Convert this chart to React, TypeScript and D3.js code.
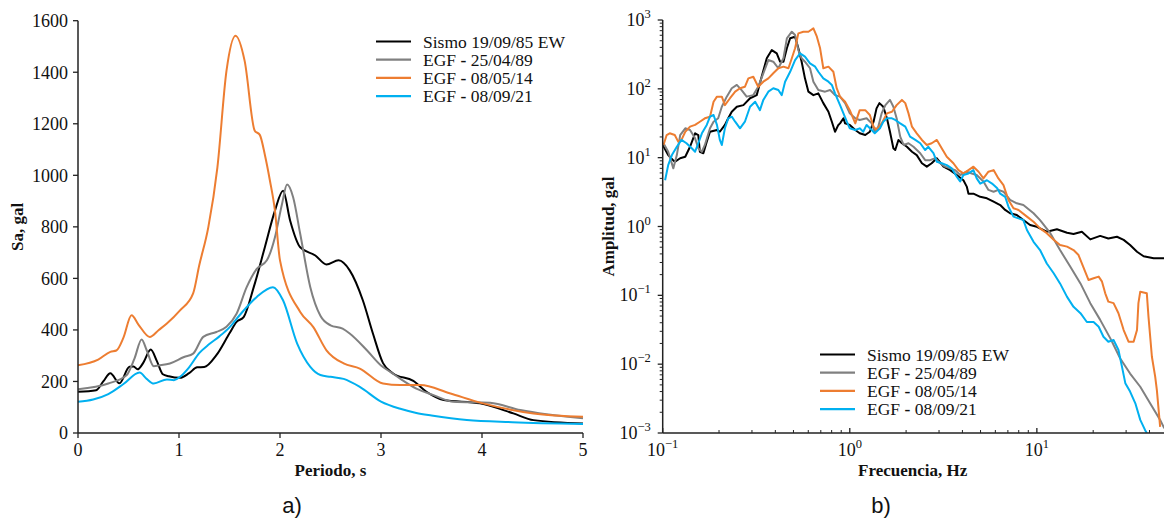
import React from 'react';
import * as d3 from 'd3';

// ---------- Left chart: response spectra (Periodo, s vs Sa, gal) ----------
const saTicksX = [0, 1, 2, 3, 4, 5];
const saTicksY = [0, 200, 400, 600, 800, 1000, 1200, 1400, 1600];

const sismoT = [0, 0.18, 0.25, 0.32, 0.41, 0.51, 0.55, 0.59, 0.65, 0.72, 0.78, 0.84, 0.9, 1.01, 1.1, 1.18, 1.25, 1.37, 1.5, 1.57, 1.64, 1.74, 1.85, 1.95, 2.03, 2.1, 2.2, 2.35, 2.46, 2.58, 2.69, 2.82, 2.92, 3.02, 3.12, 3.32, 3.45, 3.62, 3.98, 4.31, 4.51, 5.0];
const sismoSa = [160, 166, 200, 232, 193, 257, 258, 247, 275, 324, 280, 228, 220, 214, 232, 255, 256, 302, 387, 431, 450, 566, 721, 863, 940, 825, 721, 689, 654, 670, 631, 515, 386, 271, 231, 202, 160, 128, 115, 76, 50, 37];

const egf89T = [0, 0.3, 0.48, 0.56, 0.63, 0.68, 0.75, 0.8, 0.91, 1.05, 1.14, 1.24, 1.37, 1.47, 1.57, 1.67, 1.77, 1.87, 1.95, 2.02, 2.07, 2.13, 2.2, 2.3, 2.4, 2.5, 2.62, 2.69, 2.86, 3.0, 3.1, 3.2, 3.35, 3.52, 3.72, 4.08, 4.38, 5.0];
const egf89Sa = [170, 192, 224, 290, 363, 321, 259, 262, 270, 295, 308, 373, 392, 412, 463, 566, 637, 670, 760, 889, 964, 915, 773, 566, 455, 418, 405, 386, 321, 262, 235, 208, 172, 147, 121, 117, 89, 57];

const egf14T = [0, 0.2, 0.32, 0.38, 0.45, 0.53, 0.6, 0.71, 0.8, 0.88, 1.01, 1.14, 1.2, 1.29, 1.38, 1.47, 1.56, 1.65, 1.75, 1.8, 1.85, 1.9, 1.95, 2.0, 2.2, 2.33, 2.46, 2.63, 2.79, 3.02, 3.19, 3.39, 3.68, 4.0, 4.51, 5.0];
const egf14Sa = [263, 285, 315, 320, 370, 457, 420, 373, 400, 425, 476, 542, 650, 798, 1030, 1405, 1542, 1444, 1173, 1157, 1080, 980, 863, 670, 470, 411, 321, 270, 250, 192, 186, 186, 154, 116, 76, 63];

const egf21T = [0, 0.15, 0.3, 0.45, 0.61, 0.68, 0.75, 0.88, 0.95, 1.01, 1.1, 1.2, 1.3, 1.4, 1.5, 1.6, 1.77, 1.93, 2.03, 2.17, 2.3, 2.4, 2.5, 2.63, 2.79, 3.0, 3.2, 3.35, 3.5, 3.85, 4.3, 5.0];
const egf21Sa = [121, 130, 151, 190, 235, 210, 192, 208, 205, 218, 255, 310, 345, 375, 410, 457, 528, 566, 515, 347, 257, 225, 218, 210, 179, 122, 93, 78, 68, 50, 42, 35];

// ---------- Right chart: Fourier amplitude spectra ----------
const freqMajor = [0.1, 1, 10];
const ampMajor = [1e-3, 1e-2, 1e-1, 1, 10, 100, 1000];

const sismoF = [0.1, 0.107, 0.116, 0.124, 0.132, 0.14, 0.149, 0.155, 0.158, 0.165, 0.172, 0.179, 0.195, 0.202, 0.215, 0.224, 0.234, 0.249, 0.27, 0.293, 0.318, 0.338, 0.36, 0.383, 0.407, 0.424, 0.442, 0.461, 0.48, 0.51, 0.531, 0.553, 0.576, 0.601, 0.639, 0.679, 0.722, 0.769, 0.802, 0.834, 0.869, 0.887, 0.925, 0.944, 1.0, 1.07, 1.13, 1.21, 1.28, 1.34, 1.39, 1.44, 1.51, 1.58, 1.64, 1.71, 1.75, 1.82, 1.9, 2.02, 2.15, 2.28, 2.43, 2.58, 2.74, 2.92, 3.17, 3.44, 3.73, 4.05, 4.22, 4.31, 4.58, 4.98, 5.41, 5.87, 6.37, 6.77, 7.19, 7.81, 8.47, 9.2, 10.0, 11.3, 12.8, 14.5, 15.7, 17.4, 19.3, 21.8, 24.1, 26.8, 29.1, 31.5, 34.3, 37.2, 42.1, 48];
const sismoA = [15.3, 10.9, 8.7, 9.8, 10.3, 14.4, 22.6, 21.3, 12.2, 11.6, 17.1, 23.8, 25.2, 23.8, 29.9, 37.3, 46.5, 55, 58, 73, 81, 150, 278, 366, 328, 248, 248, 388, 542, 572, 388, 248, 142, 91, 81, 86, 62, 46.5, 33.3, 23.8, 29.9, 31.5, 37.3, 31.5, 29.9, 25.2, 22.6, 21.3, 23.8, 33.3, 52, 62, 55, 37.3, 23.8, 13.7, 12.9, 18.1, 16.2, 14.4, 12.2, 10.9, 8.3, 7.4, 8.3, 9.8, 7.4, 6.6, 5.6, 4.7, 3.8, 3.0, 3.0, 2.7, 2.57, 2.29, 2.05, 1.74, 1.56, 1.47, 1.24, 1.05, 0.99, 0.84, 0.91, 0.81, 0.78, 0.84, 0.65, 0.73, 0.67, 0.71, 0.64, 0.54, 0.43, 0.37, 0.345, 0.345];

const egf89F = [0.101, 0.107, 0.114, 0.119, 0.124, 0.132, 0.14, 0.149, 0.155, 0.162, 0.168, 0.179, 0.187, 0.198, 0.207, 0.22, 0.234, 0.249, 0.264, 0.281, 0.305, 0.324, 0.345, 0.367, 0.39, 0.415, 0.442, 0.461, 0.49, 0.51, 0.531, 0.553, 0.576, 0.613, 0.639, 0.679, 0.738, 0.785, 0.834, 0.887, 0.944, 1.0, 1.07, 1.13, 1.23, 1.31, 1.36, 1.42, 1.48, 1.55, 1.64, 1.71, 1.78, 1.86, 1.94, 2.06, 2.19, 2.38, 2.53, 2.69, 2.86, 3.04, 3.23, 3.44, 3.66, 3.89, 4.22, 4.49, 4.77, 5.18, 5.51, 5.87, 6.23, 6.63, 7.19, 7.81, 8.47, 9.6, 10.4, 11.8, 13.3, 15.1, 17.1, 19.3, 21.8, 24.7, 27.9, 31.5, 35.7, 40.3, 45.6, 48];
const egf89A = [16.2, 12.2, 7.0, 10.9, 21.3, 26.7, 25.2, 19.1, 13.7, 12.2, 15.3, 26.7, 33.3, 37.3, 55, 77, 102, 114, 96, 77, 81, 107, 168, 262, 248, 199, 278, 542, 676, 605, 366, 278, 248, 199, 127, 96, 91, 96, 81, 77, 62, 44, 37.3, 35.3, 37.3, 31.5, 23.8, 28.2, 44, 58, 69, 55, 37.3, 20.2, 15.3, 16.2, 14.4, 11.6, 9.2, 9.2, 9.8, 8.3, 7.4, 7.0, 6.6, 5.6, 6.25, 5.9, 5.6, 4.5, 3.4, 3.2, 3.4, 3.2, 2.43, 2.17, 2.05, 1.56, 1.24, 0.8, 0.455, 0.26, 0.149, 0.077, 0.044, 0.0237, 0.0121, 0.0073, 0.0047, 0.0027, 0.00155, 0.00117];

const egf14F = [0.101, 0.105, 0.109, 0.116, 0.121, 0.126, 0.132, 0.14, 0.149, 0.158, 0.168, 0.179, 0.187, 0.195, 0.207, 0.215, 0.229, 0.244, 0.259, 0.275, 0.287, 0.305, 0.324, 0.345, 0.367, 0.39, 0.415, 0.442, 0.47, 0.49, 0.51, 0.531, 0.565, 0.601, 0.639, 0.667, 0.694, 0.722, 0.769, 0.817, 0.851, 0.887, 0.944, 1.0, 1.07, 1.13, 1.21, 1.28, 1.34, 1.39, 1.48, 1.58, 1.68, 1.78, 1.9, 1.98, 2.06, 2.15, 2.28, 2.43, 2.58, 2.74, 2.92, 3.1, 3.3, 3.58, 3.81, 4.05, 4.31, 4.58, 4.88, 5.18, 5.51, 5.87, 6.23, 6.63, 7.05, 7.5, 7.98, 8.85, 9.6, 10.4, 11.3, 12.3, 13.3, 14.5, 15.7, 16.7, 17.7, 18.9, 20.1, 21.4, 22.3, 23.2, 24.1, 25.7, 27.3, 29.1, 30.9, 32.9, 34.3, 34.9, 35.7, 38.7, 39.5, 41.2, 42.9, 43.8, 45.6];
const egf14A = [15.3, 21.3, 22.6, 21.3, 17.1, 18.1, 23.8, 28.2, 29.9, 33.3, 37.3, 39.4, 65, 77, 77, 58, 73, 91, 102, 107, 142, 150, 107, 127, 142, 168, 199, 210, 199, 278, 388, 640, 676, 676, 757, 572, 388, 199, 210, 177, 102, 77, 65, 49, 31.5, 49, 49, 41.7, 28.2, 25.2, 31.5, 44, 46.5, 58, 69, 62, 44, 28.2, 22.6, 18.1, 15.3, 16.2, 18.1, 13.7, 10.3, 8.3, 6.6, 5.9, 6.6, 7.4, 6.25, 5.0, 6.25, 6.6, 5.0, 4.0, 2.43, 1.84, 1.74, 1.39, 1.17, 0.94, 0.8, 0.64, 0.54, 0.51, 0.455, 0.385, 0.26, 0.167, 0.177, 0.187, 0.158, 0.107, 0.081, 0.077, 0.055, 0.0313, 0.0212, 0.0212, 0.0313, 0.077, 0.113, 0.107, 0.049, 0.0128, 0.0066, 0.0042, 0.00123];

const egf21F = [0.103, 0.107, 0.112, 0.119, 0.126, 0.134, 0.143, 0.149, 0.155, 0.162, 0.172, 0.179, 0.187, 0.195, 0.202, 0.207, 0.215, 0.224, 0.234, 0.244, 0.259, 0.275, 0.293, 0.312, 0.331, 0.345, 0.367, 0.39, 0.415, 0.433, 0.451, 0.48, 0.51, 0.542, 0.576, 0.613, 0.653, 0.679, 0.722, 0.769, 0.802, 0.834, 0.887, 0.925, 0.964, 1.0, 1.07, 1.13, 1.18, 1.23, 1.31, 1.36, 1.45, 1.51, 1.58, 1.68, 1.75, 1.86, 1.98, 2.1, 2.24, 2.38, 2.53, 2.63, 2.8, 2.92, 3.1, 3.3, 3.51, 3.73, 3.89, 4.05, 4.31, 4.58, 4.77, 4.98, 5.41, 5.76, 6.14, 6.37, 6.77, 7.05, 7.5, 7.98, 8.47, 8.85, 9.6, 10.4, 11.3, 12.3, 13.3, 14.5, 15.7, 17.1, 18.5, 20.1, 21.4, 22.7, 24.1, 25.7, 27.3, 28.5, 29.7, 31.5, 33.6, 35.7, 37.9, 38.7];
const egf21A = [4.7, 7.8, 10.9, 14.4, 18.1, 16.2, 13.7, 12.2, 16.2, 22.6, 29.9, 39.4, 41.7, 29.9, 18.1, 15.3, 26.7, 37.3, 39.4, 33.3, 26.7, 33.3, 55, 65, 49, 69, 91, 102, 96, 81, 127, 177, 262, 328, 293, 235, 210, 177, 142, 127, 114, 86, 58, 44, 33.3, 26.7, 25.2, 26.7, 23.8, 29.9, 25.2, 22.6, 26.7, 33.3, 37.3, 37.3, 35.3, 31.5, 28.2, 20.2, 18.1, 16.2, 12.9, 14.4, 11.6, 8.7, 8.3, 7.8, 7.0, 5.3, 4.5, 5.6, 5.9, 6.6, 5.0, 4.2, 4.7, 4.2, 3.6, 3.0, 2.7, 1.94, 1.39, 1.31, 1.24, 0.89, 0.6, 0.455, 0.29, 0.209, 0.149, 0.095, 0.068, 0.055, 0.041, 0.041, 0.035, 0.025, 0.0212, 0.0224, 0.0161, 0.0092, 0.0053, 0.004, 0.0027, 0.00155, 0.0011, 0.001];

const seriesNames = ['Sismo 19/09/85 EW', 'EGF - 25/04/89', 'EGF - 08/05/14', 'EGF - 08/09/21'];
const seriesColors = ['#000000', '#808080', '#ED7D31', '#00B0F0'];

const FONT = '"Liberation Serif", "Times New Roman", serif';
const AXIS = '#222222';

function zip(a: number[], b: number[]): [number, number][] {
  return a.map((v, i) => [v, b[i]]);
}

function LegendLabel({ name }: { name: string }) {
  if (name.startsWith('EGF - ')) {
    return (
      <>
        <tspan>EGF </tspan>
        <tspan fontWeight="bold">-</tspan>
        <tspan> {name.slice(6)}</tspan>
      </>
    );
  }
  return <tspan>{name}</tspan>;
}

function Legend({ x, y, step }: { x: number; y: number; step: number }) {
  return (
    <g>
      {seriesNames.map((n, i) => (
        <g key={n} transform={`translate(${x},${y + i * step})`}>
          <line x1={0} x2={35} y1={0} y2={0} stroke={seriesColors[i]} strokeWidth={2.2} />
          <text x={47} y={0} dy="0.35em" fontSize={17.5} fontFamily={FONT} fill="#111">
            <LegendLabel name={n} />
          </text>
        </g>
      ))}
    </g>
  );
}

export default function App() {
  // left chart
  const xL = d3.scaleLinear().domain([0, 5]).range([78, 583]);
  const yL = d3.scaleLinear().domain([0, 1600]).range([433, 20.7]);
  const lineL = d3
    .line<[number, number]>()
    .x((d) => xL(d[0]))
    .y((d) => yL(d[1]))
    .curve(d3.curveMonotoneX);
  const leftSeries = [zip(sismoT, sismoSa), zip(egf89T, egf89Sa), zip(egf14T, egf14Sa), zip(egf21T, egf21Sa)];

  // right chart
  const xR = d3.scaleLog().domain([0.1, 47]).range([662.7, 1162.6]);
  const yR = d3.scaleLog().domain([1e-3, 1e3]).range([433, 20]);
  const lineR = d3
    .line<[number, number]>()
    .x((d) => xR(d[0]))
    .y((d) => yR(d[1]))
    .curve(d3.curveLinear);
  const rightSeries = [zip(sismoF, sismoA), zip(egf89F, egf89A), zip(egf14F, egf14A), zip(egf21F, egf21A)];

  const minorX: number[] = [];
  [0.1, 1, 10].forEach((dec) => {
    for (let k = 2; k <= 9; k++) {
      const v = dec * k;
      if (v <= 47) minorX.push(v);
    }
  });
  const minorY: number[] = [];
  [1e-3, 1e-2, 1e-1, 1, 10, 100].forEach((dec) => {
    for (let k = 2; k <= 9; k++) minorY.push(dec * k);
  });

  const expOf = (v: number) => {
    const e = Math.round(Math.log10(v));
    return e < 0 ? '\u2212' + Math.abs(e) : String(e);
  };

  const [x0L, x1L] = xL.range();
  const [y0L, y1L] = yL.range();
  const [x0R, x1R] = xR.range();
  const [y0R, y1R] = yR.range();

  return (
    <svg
      width={1164}
      height={521}
      viewBox="0 0 1164 521"
      style={{ position: 'absolute', left: 0, top: 0, background: '#fff' }}
    >
      <defs>
        <clipPath id="clipR">
          <rect x={x0R} y={y1R} width={x1R - x0R + 2} height={y0R - y1R} />
        </clipPath>
      </defs>

      {/* ===== Left chart ===== */}
      <g>
        {leftSeries.map((s, i) => (
          <path key={i} d={lineL(s) || ''} fill="none" stroke={seriesColors[i]} strokeWidth={2} />
        ))}
        <line x1={x0L} x2={x0L} y1={y0L} y2={y1L} stroke={AXIS} strokeWidth={1.5} />
        <line x1={x0L} x2={x1L} y1={y0L} y2={y0L} stroke={AXIS} strokeWidth={1.5} />
        {saTicksY.map((t) => (
          <g key={t}>
            <line x1={x0L - 5} x2={x0L} y1={yL(t)} y2={yL(t)} stroke={AXIS} strokeWidth={1.3} />
            <text x={x0L - 10} y={yL(t)} dy="0.35em" textAnchor="end" fontSize={18} fontFamily={FONT} fill="#111">
              {t}
            </text>
          </g>
        ))}
        {saTicksX.map((t) => (
          <g key={t}>
            <line x1={xL(t)} x2={xL(t)} y1={y0L} y2={y0L + 5} stroke={AXIS} strokeWidth={1.3} />
            <text x={xL(t)} y={455.5} textAnchor="middle" fontSize={18} fontFamily={FONT} fill="#111">
              {t}
            </text>
          </g>
        ))}
        <text x={(x0L + x1L) / 2} y={476} textAnchor="middle" fontSize={17} fontWeight="bold" fontFamily={FONT} fill="#111">
          Periodo, s
        </text>
        <text
          transform={`translate(23,${(y0L + y1L) / 2}) rotate(-90)`}
          textAnchor="middle"
          fontSize={17}
          fontWeight="bold"
          fontFamily={FONT}
          fill="#111"
        >
          Sa, gal
        </text>
        <Legend x={376} y={41.5} step={18.2} />
        <text x={292} y={513} textAnchor="middle" fontSize={22} fontFamily='"Liberation Sans", Arial, sans-serif' fill="#111">
          a)
        </text>
      </g>

      {/* ===== Right chart ===== */}
      <g>
        <g clipPath="url(#clipR)">
          {rightSeries.map((s, i) => (
            <path key={i} d={lineR(s) || ''} fill="none" stroke={seriesColors[i]} strokeWidth={2} strokeLinejoin="round" />
          ))}
        </g>
        <line x1={x0R} x2={x0R} y1={y0R} y2={y1R} stroke={AXIS} strokeWidth={1.5} />
        <line x1={x0R} x2={x1R + 2} y1={y0R} y2={y0R} stroke={AXIS} strokeWidth={1.5} />
        {minorY.map((t, i) => (
          <line key={'my' + i} x1={x0R - 3} x2={x0R} y1={yR(t)} y2={yR(t)} stroke={AXIS} strokeWidth={1} />
        ))}
        {ampMajor.map((t) => (
          <g key={'My' + t}>
            <line x1={x0R - 5} x2={x0R} y1={yR(t)} y2={yR(t)} stroke={AXIS} strokeWidth={1.3} />
            <text x={x0R - 12} y={yR(t) + 6} textAnchor="end" fontSize={18} fontFamily={FONT} fill="#111">
              <tspan>10</tspan>
              <tspan dy={-8} fontSize={12.5}>
                {expOf(t)}
              </tspan>
            </text>
          </g>
        ))}
        {minorX.map((t, i) => (
          <line key={'mx' + i} x1={xR(t)} x2={xR(t)} y1={y0R - 3} y2={y0R} stroke={AXIS} strokeWidth={1} />
        ))}
        {freqMajor.map((t) => (
          <g key={'Mx' + t}>
            <line x1={xR(t)} x2={xR(t)} y1={y0R - 5} y2={y0R} stroke={AXIS} strokeWidth={1.3} />
            <text x={xR(t)} y={455.5} textAnchor="middle" fontSize={18} fontFamily={FONT} fill="#111">
              <tspan>10</tspan>
              <tspan dy={-8} fontSize={12.5}>
                {expOf(t)}
              </tspan>
            </text>
          </g>
        ))}
        <text x={(x0R + x1R) / 2} y={476} textAnchor="middle" fontSize={17} fontWeight="bold" fontFamily={FONT} fill="#111">
          Frecuencia, Hz
        </text>
        <text
          transform={`translate(614,${(y0R + y1R) / 2}) rotate(-90)`}
          textAnchor="middle"
          fontSize={17}
          fontWeight="bold"
          fontFamily={FONT}
          fill="#111"
        >
          Amplitud, gal
        </text>
        <Legend x={820} y={354.5} step={18.2} />
        <text x={881} y={513} textAnchor="middle" fontSize={22} fontFamily='"Liberation Sans", Arial, sans-serif' fill="#111">
          b)
        </text>
      </g>
    </svg>
  );
}
